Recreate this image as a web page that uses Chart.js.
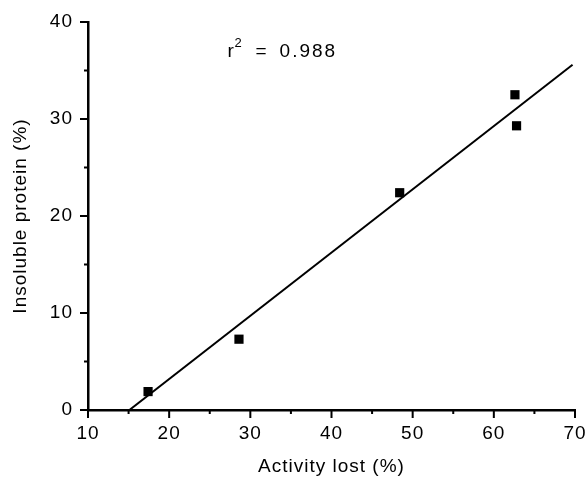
<!DOCTYPE html>
<html>
<head>
<meta charset="utf-8">
<script src="https://cdn.jsdelivr.net/npm/chart.js@4/dist/chart.umd.min.js"></script>
<style>
  html, body { margin: 0; padding: 0; background: #fff; }
  canvas { display: block; }
</style>
</head>
<body>
<canvas id="c" width="586" height="483"></canvas>
<script>
// ---- data ----
const activityLost = [17.4, 28.6, 48.4, 62.6, 62.8];       // x (%)
const insolubleProtein = [1.9, 7.3, 22.4, 32.5, 29.3];      // y (%)
const fitLineX = [15.1, 69.7];                              // regression line ends (x)
const fitLineY = [0, 35.6];                                 // regression line ends (y)
const xTickValues = [10, 20, 30, 40, 50, 60, 70];
const yTickValues = [0, 10, 20, 30, 40];
const xMinorTicks = [15, 25, 35, 45, 55, 65];
const yMinorTicks = [5, 15, 25, 35];
const rSquaredLabel = "0.988";
const xTitle = "Activity lost (%)";
const yTitle = "Insoluble protein (%)";

const points = activityLost.map((x, i) => ({ x: x, y: insolubleProtein[i] }));
const fitLine = fitLineX.map((x, i) => ({ x: x, y: fitLineY[i] }));

const FONT = "'Liberation Sans', Arial, Helvetica, sans-serif";
const FS = 19;
Chart.defaults.color = '#000';
Chart.defaults.font.family = FONT;

const spacingPlugin = {
  id: 'spacing',
  beforeInit(chart) { chart.ctx.letterSpacing = '1px'; },
  beforeDraw(chart) { chart.ctx.letterSpacing = '1px'; }
};

function zeroPad(s) { s.paddingLeft = 0; s.paddingRight = 0; s.paddingTop = 0; s.paddingBottom = 0; }

const ticksPlugin = {
  id: 'customTicks',
  afterDraw(chart) {
    const ctx = chart.ctx;
    const xs = chart.scales.x, ys = chart.scales.y;
    const area = chart.chartArea;
    ctx.save();
    ctx.strokeStyle = '#000';
    ctx.lineWidth = 2;
    ctx.beginPath();
    xTickValues.forEach(v => {
      const px = xs.getPixelForValue(v);
      ctx.moveTo(px, area.bottom); ctx.lineTo(px, area.bottom + 8);
    });
    xMinorTicks.forEach(v => {
      const px = xs.getPixelForValue(v);
      ctx.moveTo(px, area.bottom); ctx.lineTo(px, area.bottom + 4);
    });
    yTickValues.forEach(v => {
      const py = ys.getPixelForValue(v);
      ctx.moveTo(area.left, py); ctx.lineTo(area.left - 8, py);
    });
    yMinorTicks.forEach(v => {
      const py = ys.getPixelForValue(v);
      ctx.moveTo(area.left, py); ctx.lineTo(area.left - 4, py);
    });
    ctx.stroke();

    // r^2 annotation
    const ax = xs.getPixelForValue(27.2);
    const ay = ys.getPixelForValue(36.4);
    ctx.fillStyle = '#000';
    ctx.textBaseline = 'alphabetic';
    ctx.textAlign = 'left';
    ctx.letterSpacing = '1px';
    ctx.font = FS + 'px ' + FONT;
    ctx.fillText('r', ax, ay);
    ctx.font = '13px ' + FONT;
    ctx.fillText('2', ax + 7, ay - 10);
    ctx.font = FS + 'px ' + FONT;
    ctx.fillText('=', ax + 28, ay);
    ctx.letterSpacing = '2px';
    ctx.fillText(rSquaredLabel, ax + 52, ay);
    ctx.restore();
  }
};

new Chart(document.getElementById('c'), {
  type: 'scatter',
  data: {
    datasets: [
      {
        type: 'line',
        data: fitLine,
        borderColor: '#000',
        borderWidth: 2,
        pointRadius: 0,
        fill: false,
        tension: 0,
        order: 2
      },
      {
        data: points,
        pointStyle: 'rect',
        pointRadius: 6.5,
        backgroundColor: '#000',
        borderColor: '#000',
        borderWidth: 0,
        order: 1
      }
    ]
  },
  options: {
    responsive: false,
    animation: false,
    devicePixelRatio: 1,
    layout: { padding: { top: 22, right: 11, left: 0, bottom: 0 } },
    plugins: { legend: { display: false }, tooltip: { enabled: false } },
    scales: {
      x: {
        type: 'linear',
        min: 10, max: 70,
        afterFit(s) { s.height = 73; zeroPad(s); },
        afterBuildTicks(s) { s.ticks = xTickValues.map(v => ({ value: v })); },
        grid: { display: true, drawOnChartArea: false, drawTicks: false },
        border: { display: true, color: '#000', width: 2.5 },
        ticks: { padding: 12, color: '#000', font: { size: FS }, maxRotation: 0 },
        title: { display: true, text: xTitle, color: '#000', font: { size: FS }, padding: { top: 0, bottom: 5 } }
      },
      y: {
        type: 'linear',
        min: 0, max: 40,
        afterFit(s) { s.width = 88; zeroPad(s); },
        afterBuildTicks(s) { s.ticks = yTickValues.map(v => ({ value: v })); },
        grid: { display: true, drawOnChartArea: false, drawTicks: false },
        border: { display: true, color: '#000', width: 2.5 },
        ticks: { padding: 15, color: '#000', font: { size: FS } },
        title: { display: true, text: yTitle, color: '#000', font: { size: FS }, padding: { top: 9, bottom: 0 } }
      }
    }
  },
  plugins: [spacingPlugin, ticksPlugin]
});
</script>
</body>
</html>
